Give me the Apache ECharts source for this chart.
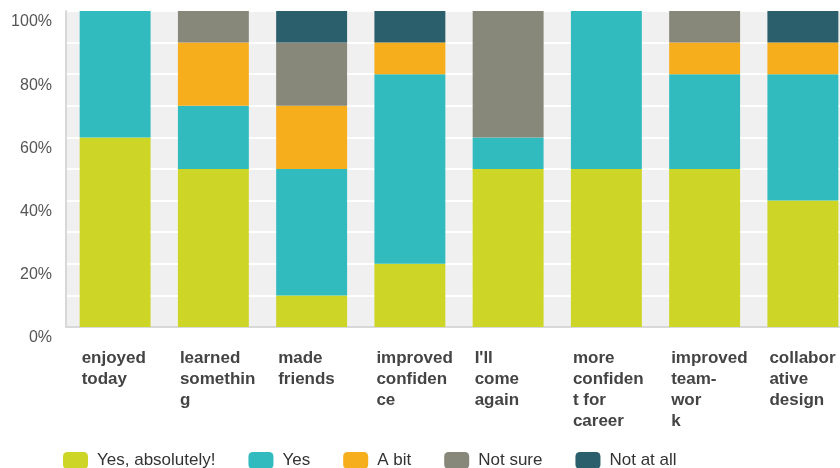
<!DOCTYPE html>
<html>
<head>
<meta charset="utf-8">
<script src="https://cdn.jsdelivr.net/npm/echarts@6/dist/echarts.min.js"></script>
<style>
html,body{margin:0;padding:0;background:#fff;}
#chart{width:840px;height:468px;}
</style>
</head>
<body>
<div id="chart"></div>
<script>
const categories = ['enjoyed today','learned something','made friends','improved confidence',"I'll come again",'more confident for career','improved team-work','collaborative design'];
const tickLabels = [
  ['enjoyed','today'],
  ['learned','somethin','g'],
  ['made','friends'],
  ['improved','confiden','ce'],
  ["I'll",'come','again'],
  ['more','confiden','t for','career'],
  ['improved','team-','wor','k'],
  ['collabor','ative','design']
];
const seriesNames = ['Yes, absolutely!','Yes','A bit','Not sure','Not at all'];
const yesAbsolutely = [60, 50, 10, 20, 50, 50, 50, 40];
const yes           = [40, 20, 40, 60, 10, 50, 30, 40];
const aBit          = [0, 20, 20, 10, 0, 0, 10, 10];
const notSure       = [0, 10, 20, 0, 40, 0, 10, 0];
const notAtAll      = [0, 0, 10, 10, 0, 0, 0, 10];
const colors = ['#cdd527','#31bbbf','#f6ae1d','#87877a','#2c5f6c'];
const allValues = [yesAbsolutely, yes, aBit, notSure, notAtAll];

const chart = echarts.init(document.getElementById('chart'));
chart.setOption({
  animation: false,
  color: colors,
  textStyle: {fontFamily: '"Liberation Sans", Arial, sans-serif'},
  grid: {left: 66, width: 786, top: 11, bottom: 141, show: true, backgroundColor: '#f0f0f0', borderWidth: 0, containLabel: false, outerBoundsMode: 'none'},
  legend: {
    left: 58, top: 447, itemWidth: 25, itemHeight: 17, itemGap: 33,
    icon: 'roundRect',
    textStyle: {fontSize: 17, color: '#333', padding: [0, 0, 0, 4]},
    data: seriesNames
  },
  xAxis: {
    type: 'category',
    data: categories,
    axisLine: {show: true, lineStyle: {color: '#d8d8d8', width: 2}},
    axisTick: {show: false},
    axisLabel: {
      interval: 0, margin: 21, align: 'center',
      formatter: function (v, i) {
        return tickLabels[i].map(function (l) { return '{a|' + l + '}'; }).join('\n');
      },
      rich: {a: {width: 71, padding: [0, 0, 0, 4], align: 'left', fontSize: 17, fontWeight: 'bold', lineHeight: 21, color: '#444'}}
    }
  },
  yAxis: {
    type: 'value', min: 0, max: 100, interval: 10,
    axisLine: {show: true, lineStyle: {color: '#d8d8d8', width: 2}},
    axisTick: {show: false},
    splitLine: {show: true, lineStyle: {color: '#ffffff', width: 2}},
    axisLabel: {
      fontSize: 16, color: '#555', margin: 14, verticalAlign: 'top', padding: [3, 0, 0, 0],
      formatter: function (v) { return v % 20 === 0 ? v + '%' : ''; }
    }
  },
  series: seriesNames.map(function (name, k) {
    return {
      name: name, type: 'bar', stack: 'total', barCategoryGap: '27.8%',
      data: allValues[k],
      itemStyle: {color: colors[k]},
      emphasis: {disabled: true}
    };
  })
});
</script>
</body>
</html>
